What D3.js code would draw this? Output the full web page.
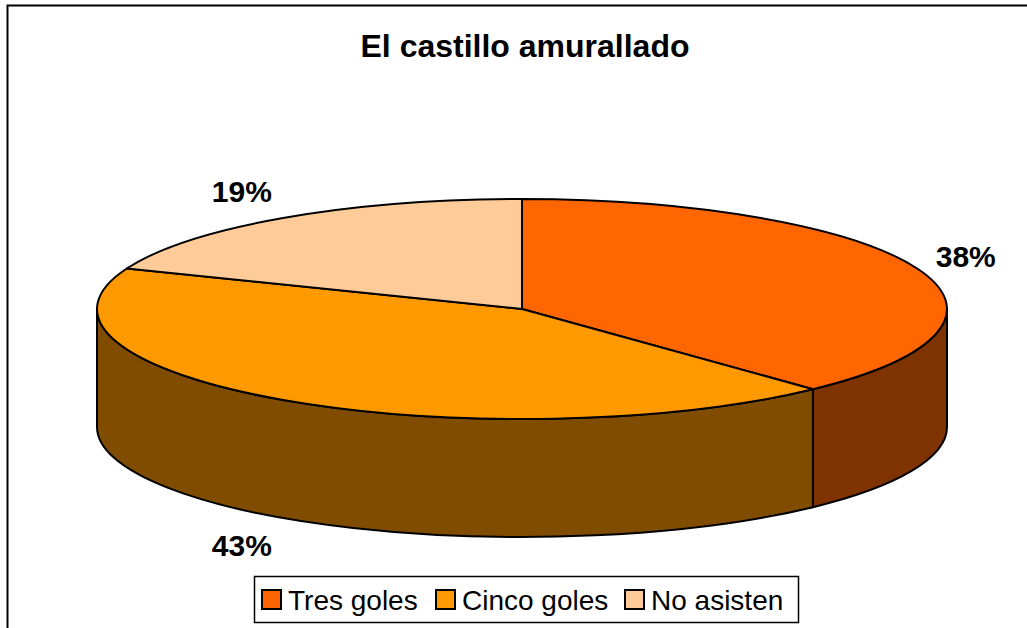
<!DOCTYPE html>
<html>
<head>
<meta charset="utf-8">
<script src="https://cdn.jsdelivr.net/npm/d3@7"></script>
<style>
  body { margin: 0; background: #fff; }
  svg { display: block; font-family: "Liberation Sans", Arial, sans-serif; }
</style>
</head>
<body>
<div id="chart"></div>
<script>
const FRAME_WIDTH = 1027;
const FRAME_HEIGHT = 628;

// data
const categories = ["Tres goles", "Cinco goles", "No asisten"];
const values = [38, 43, 19];
const topColors = ["#FF6600", "#FF9900", "#FFCC99"];
const sideColors = ["#7F3300", "#7F4C00", "#7F664C"];

// pie geometry (top ellipse + wall depth)
const CX = 522, CY = 309, RX = 425, RY = 110, DEPTH = 118;
const LABEL_RX = 445, LABEL_RY = 143;

const svg = d3.select("#chart")
  .append("svg")
    .attr("width", FRAME_WIDTH)
    .attr("height", FRAME_HEIGHT);

// outer frame (runs off the right and bottom edge)
svg.append("rect")
  .attr("x", 7.5).attr("y", 5.5)
  .attr("width", 1040).attr("height", 640)
  .attr("fill", "#fff")
  .attr("stroke", "#000")
  .attr("stroke-width", 2);

svg.append("text")
  .attr("x", 525).attr("y", 57)
  .attr("text-anchor", "middle")
  .attr("font-size", 32)
  .attr("font-weight", "bold")
  .text("El castillo amurallado");

const pie = d3.pie().sort(null).value(d => d)(values);

// point on the ellipse, angle measured clockwise from 12 o'clock
const pt = (a, dy = 0) => [CX + RX * Math.sin(a), CY - RY * Math.cos(a) + dy];

// side walls: only the front half (pi/2 .. 3pi/2) is visible
const walls = svg.append("g");
pie.forEach((d, i) => {
  const a0 = Math.max(d.startAngle, Math.PI / 2);
  const a1 = Math.min(d.endAngle, 3 * Math.PI / 2);
  if (a1 <= a0) return;
  const p0 = pt(a0), p1 = pt(a1), q0 = pt(a0, DEPTH), q1 = pt(a1, DEPTH);
  const path = `M${p0} A${RX},${RY} 0 0 1 ${p1} L${q1} A${RX},${RY} 0 0 0 ${q0} Z`;
  walls.append("path")
    .attr("d", path)
    .attr("fill", sideColors[i])
    .attr("stroke", "#000")
    .attr("stroke-width", 2)
    .attr("stroke-linejoin", "round");
});

// top faces
const tops = svg.append("g");
pie.forEach((d, i) => {
  const p0 = pt(d.startAngle), p1 = pt(d.endAngle);
  const large = d.endAngle - d.startAngle > Math.PI ? 1 : 0;
  tops.append("path")
    .attr("d", `M${CX},${CY} L${p0} A${RX},${RY} 0 ${large} 1 ${p1} Z`)
    .attr("fill", topColors[i])
    .attr("stroke", "#000")
    .attr("stroke-width", 2)
    .attr("stroke-linejoin", "round");
});

// percent labels
const total = d3.sum(values);
pie.forEach((d, i) => {
  const m = (d.startAngle + d.endAngle) / 2;
  const x = CX + LABEL_RX * Math.sin(m);
  let y = CY - LABEL_RY * Math.cos(m);
  if (Math.cos(m) < 0) y += DEPTH;
  svg.append("text")
    .attr("x", x).attr("y", y)
    .attr("dy", "0.36em")
    .attr("text-anchor", Math.sin(m) >= 0 ? "start" : "end")
    .attr("font-size", 30)
    .attr("font-weight", "bold")
    .text(d3.format(".0%")(d.value / total));
});

// legend
const legend = svg.append("g");
legend.append("rect")
  .attr("x", 254.5).attr("y", 576.5)
  .attr("width", 544).attr("height", 46)
  .attr("fill", "#fff")
  .attr("stroke", "#000")
  .attr("stroke-width", 1.5);

const legendX = [262, 436, 625];
categories.forEach((c, i) => {
  legend.append("rect")
    .attr("x", legendX[i]).attr("y", 590)
    .attr("width", 19).attr("height", 19)
    .attr("fill", topColors[i])
    .attr("stroke", "#000")
    .attr("stroke-width", 2);
  legend.append("text")
    .attr("x", legendX[i] + 26).attr("y", 610)
    .attr("font-size", 28)
    .text(c);
});
</script>
</body>
</html>
